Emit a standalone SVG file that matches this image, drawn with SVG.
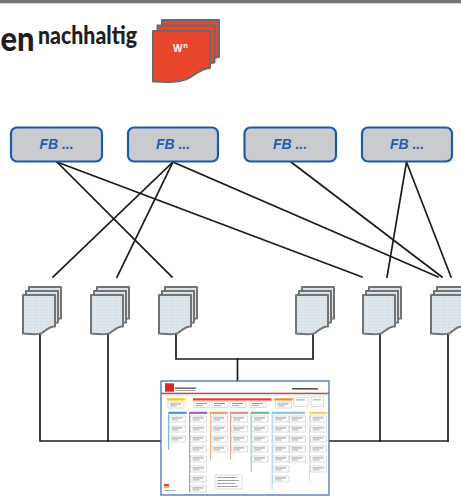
<svg xmlns="http://www.w3.org/2000/svg" xmlns:xlink="http://www.w3.org/1999/xlink" width="461" height="496" viewBox="0 0 461 496">
  <style>
    .fb-box { fill: #c9cbce; stroke: #1f5aa6; stroke-width: 2.2; }
    .fb-label { font-family: "Liberation Sans", Arial, sans-serif; font-weight: bold; font-style: italic; font-size: 14px; fill: #2a5cab; text-anchor: middle; }
    .wire { fill: none; stroke: #1c1c1c; stroke-width: 1.7; stroke-linecap: square; }
    .sheet { fill: url(#paper); stroke: #737373; stroke-width: 2; stroke-linejoin: round; }
    .red-sheet { fill: #e8472b; stroke: #6b6b6b; stroke-width: 2; stroke-linejoin: round; }
    .title { font-family: "Lato", "Open Sans", sans-serif; font-weight: 900; fill: #1e1e1e; }
    .card { fill: #ffffff; stroke: #b8b8b8; stroke-width: 0.5; }
    .txt { fill: #8a8a8a; }
  </style>
  <defs>
    <!-- light blue paper texture for the document stacks -->
    <pattern id="paper" width="3" height="3" patternUnits="userSpaceOnUse">
      <rect width="3" height="3" fill="#d8e2e9"/>
      <circle cx="1" cy="1" r="0.7" fill="#edf2f5"/>
      <circle cx="2.5" cy="2.4" r="0.4" fill="#c8d5de"/>
    </pattern>
    <path id="sheet" class="sheet" d="M0,0 H32 V31.5 C27,31 23,35 19,38 C15,40.5 6,39 0,38.5 Z"/>
    <g id="docstack">
      <use href="#sheet" x="6" y="-8"/>
      <use href="#sheet" x="3" y="-4"/>
      <use href="#sheet"/>
    </g>
    <path id="red-sheet" class="red-sheet" d="M0,0 H57 V37 C50,37 44,42 36,47 C28,52 12,51 0,50.5 Z"/>
    <!-- small catalogue card used inside the poster thumbnail -->
    <g id="card">
      <rect class="card" width="16" height="6"/>
      <rect class="txt" x="2" y="1.5" width="11" height="0.9"/>
      <rect class="txt" x="2" y="3.6" width="7" height="0.7"/>
    </g>
    <filter id="soft" x="-5%" y="-5%" width="110%" height="110%">
      <feGaussianBlur stdDeviation="0.4"/>
    </filter>
  </defs>

  <rect width="461" height="496" fill="#ffffff"/>
  <!-- header strip -->
  <rect x="0" y="0" width="461" height="3.3" fill="#737373"/>
  <text class="title" x="0.5" y="51" font-size="34" textLength="34" lengthAdjust="spacingAndGlyphs">en</text>
  <text class="title" x="38" y="44" font-size="24" textLength="99" lengthAdjust="spacingAndGlyphs">nachhaltig</text>

  <!-- red W^n stack -->
  <g id="wn-icon">
    <use href="#red-sheet" x="162" y="20"/>
    <use href="#red-sheet" x="157.5" y="25.5"/>
    <use href="#red-sheet" x="153" y="31"/>
    <text x="173" y="52" font-family="Liberation Sans, Arial, sans-serif" font-weight="bold" font-size="10" fill="#ffffff">W</text>
    <text x="183.3" y="48" font-family="Liberation Sans, Arial, sans-serif" font-weight="bold" font-size="7.5" fill="#ffffff">n</text>
  </g>

  <!-- connectors -->
  <g id="connectors">
    <path class="wire" d="M57,162 L172,277"/>
    <path class="wire" d="M57,162 L362,277"/>
    <path class="wire" d="M173,162 L53,277"/>
    <path class="wire" d="M173,162 L117,277"/>
    <path class="wire" d="M173,162 L438,277"/>
    <path class="wire" d="M291,162 L442,277"/>
    <path class="wire" d="M406.5,162 L387,277"/>
    <path class="wire" d="M406.5,162 L451,277"/>

    <path class="wire" d="M40,334 V441 H161"/>
    <path class="wire" d="M108,334 V441"/>
    <path class="wire" d="M176,334 V359 H313 V334"/>
    <path class="wire" d="M237.5,359 V381"/>
    <path class="wire" d="M329,441 H448"/>
    <path class="wire" d="M380,334 V441"/>
    <path class="wire" d="M448,334 V441"/>
  </g>

  <!-- FB nodes -->
  <g id="fb1"><rect class="fb-box" x="11" y="127.5" width="91" height="34" rx="6"/><text class="fb-label" x="56.5" y="148.5">FB ...</text></g>
  <g id="fb2"><rect class="fb-box" x="128" y="127.5" width="90" height="34" rx="6"/><text class="fb-label" x="173" y="148.5">FB ...</text></g>
  <g id="fb3"><rect class="fb-box" x="244.5" y="127.5" width="91.5" height="34" rx="6"/><text class="fb-label" x="290" y="148.5">FB ...</text></g>
  <g id="fb4"><rect class="fb-box" x="362" y="127.5" width="90" height="34" rx="6"/><text class="fb-label" x="407" y="148.5">FB ...</text></g>

  <!-- document stacks -->
  <g id="doc1" transform="translate(23,295)"><use href="#docstack"/></g>
  <g id="doc2" transform="translate(91,295)"><use href="#docstack"/></g>
  <g id="doc3" transform="translate(159,295)"><use href="#docstack"/></g>
  <g id="doc4" transform="translate(296,295)"><use href="#docstack"/></g>
  <g id="doc5" transform="translate(363,295)"><use href="#docstack"/></g>
  <g id="doc6" transform="translate(431,295)"><use href="#docstack"/></g>

  <!-- catalogue poster thumbnail -->
  <g id="poster" transform="translate(161,381)">
    <rect x="0" y="0" width="168" height="114" fill="#ffffff" stroke="#4a6fb5" stroke-width="1.3"/>
    <g filter="url(#soft)">
      <rect x="4" y="2.3" width="9" height="8.4" fill="#d42a20"/>
      <rect x="14" y="6.5" width="21" height="1.3" fill="#555"/>
      <rect x="14" y="9" width="21" height="0.8" fill="#999"/>
      <rect x="131" y="7" width="26" height="1.6" fill="#555"/>
      <rect x="0" y="11.7" width="168" height="1.3" fill="#e03c3c"/>
      <rect x="0" y="13.6" width="168" height="0.6" fill="#b0b0b0"/>

      <rect x="6" y="17.3" width="18" height="2.2" fill="#f5c400"/>
      <rect x="32" y="17.3" width="78.5" height="2.2" fill="#e53a2e"/>
      <rect x="113.3" y="17.3" width="18.5" height="2.2" fill="#f08a1c"/>
      <use href="#card" x="7" y="21"/>
      <use href="#card" x="33" y="20.5"/>
      <use href="#card" x="51" y="20.5"/>
      <use href="#card" x="69" y="20.5"/>
      <use href="#card" x="89" y="20.5"/>
      <use href="#card" x="114.5" y="21"/>
      <rect class="card" x="133" y="16.5" width="14" height="9"/>
      <rect class="txt" x="135" y="18.5" width="9" height="0.8"/>
      <rect class="card" x="150" y="16" width="12.7" height="9.5"/>
      <rect class="txt" x="152" y="18.5" width="8" height="0.8"/>

      <!-- columns -->
      <rect x="7.3" y="30.7" width="18.4" height="2.3" fill="#4a9fd8"/>
      <rect x="7.3" y="33" width="0.8" height="36" fill="#4a9fd8"/>
      <use href="#card" x="8.5" y="35"/><use href="#card" x="8.5" y="45"/><use href="#card" x="8.5" y="55"/>

      <rect x="28.3" y="30.7" width="18" height="2.3" fill="#9b6cc0"/>
      <rect x="28.3" y="33" width="0.8" height="78" fill="#9b6cc0"/>
      <use href="#card" x="29.5" y="35"/><use href="#card" x="29.5" y="45"/><use href="#card" x="29.5" y="55"/>
      <use href="#card" x="29.5" y="65"/><use href="#card" x="29.5" y="75"/><use href="#card" x="29.5" y="85"/>
      <use href="#card" x="29.5" y="95"/><use href="#card" x="29.5" y="105"/>

      <rect x="49" y="30.7" width="17.7" height="2.3" fill="#f4a060"/>
      <rect x="49" y="33" width="0.8" height="46" fill="#f4a060"/>
      <use href="#card" x="50.2" y="35"/><use href="#card" x="50.2" y="45"/><use href="#card" x="50.2" y="55"/><use href="#card" x="50.2" y="65"/>

      <rect x="69" y="30.7" width="18.3" height="2.3" fill="#ee8a8a"/>
      <rect x="69" y="33" width="0.8" height="46" fill="#ee8a8a"/>
      <use href="#card" x="70.2" y="35"/><use href="#card" x="70.2" y="45"/><use href="#card" x="70.2" y="55"/><use href="#card" x="70.2" y="65"/>

      <rect x="89.7" y="30.7" width="18.6" height="2.3" fill="#6cc098"/>
      <rect x="89.7" y="33" width="0.8" height="58" fill="#6cc098"/>
      <use href="#card" x="91" y="35"/><use href="#card" x="91" y="45"/><use href="#card" x="91" y="55"/>
      <use href="#card" x="91" y="65"/><use href="#card" x="91" y="75"/>

      <rect x="110.7" y="30.7" width="33.3" height="2.3" fill="#8cc8e8"/>
      <rect x="110.7" y="33" width="0.8" height="76" fill="#8cc8e8"/>
      <use href="#card" x="112" y="35"/><use href="#card" x="112" y="45"/><use href="#card" x="112" y="55"/>
      <use href="#card" x="112" y="65"/><use href="#card" x="112" y="75"/><use href="#card" x="112" y="85"/><use href="#card" x="112" y="95"/>
      <use href="#card" x="128.5" y="35"/><use href="#card" x="128.5" y="45"/><use href="#card" x="128.5" y="55"/>
      <use href="#card" x="128.5" y="65"/><use href="#card" x="128.5" y="75"/>

      <rect x="148.3" y="30.7" width="18" height="2.3" fill="#f0d850"/>
      <rect x="148.3" y="33" width="0.8" height="68" fill="#f0d850"/>
      <use href="#card" x="149.5" y="35"/><use href="#card" x="149.5" y="45"/><use href="#card" x="149.5" y="55"/>
      <use href="#card" x="149.5" y="65"/><use href="#card" x="149.5" y="75"/><use href="#card" x="149.5" y="85"/>

      <!-- legend block and footer mark -->
      <rect class="card" x="54" y="94" width="27" height="14"/>
      <rect class="txt" x="56" y="96" width="20" height="0.8"/>
      <rect class="txt" x="56" y="99" width="22" height="0.8"/>
      <rect class="txt" x="56" y="102" width="18" height="0.8"/>
      <rect class="txt" x="56" y="105" width="21" height="0.8"/>
      <rect x="3" y="103" width="5" height="2" fill="#e04040"/>
      <rect x="3" y="105" width="5" height="2" fill="#f0c040"/>
      <rect x="3" y="109" width="11" height="0.8" fill="#999"/>
    </g>
  </g>
</svg>
